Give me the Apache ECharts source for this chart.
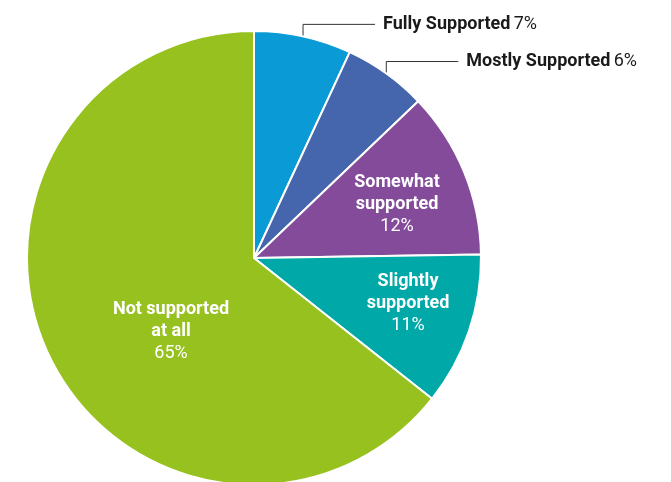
<!DOCTYPE html>
<html>
<head>
<meta charset="utf-8">
<style>
  html, body { margin: 0; padding: 0; background: #ffffff; }
  #chart { width: 671px; height: 482px; }
</style>
<script src="https://cdn.jsdelivr.net/npm/echarts@6/dist/echarts.min.js"></script>
</head>
<body>
<div id="chart"></div>
<script>
// Support levels, clockwise from 12 o'clock
const categories = ['Fully Supported', 'Mostly Supported', 'Somewhat\nsupported', 'Slightly\nsupported', 'Not supported\nat all'];
const values = [7, 6, 12, 11, 65];
const colors = ['#0a9bd7', '#4566ad', '#844b9b', '#00a8a8', '#97c11f'];
const outsideLabel = [true, true, false, false, false];

const CENTER = [254, 258];
const RADIUS = 227;
const FONT_SIZE = 18;

// anchor points for the labels drawn on the slices
const innerLabelPos = {
  2: [397, 204],
  3: [408, 303],
  4: [171, 331]
};

const chart = echarts.init(document.getElementById('chart'), null, { renderer: 'canvas' });

const data = categories.map((name, i) => ({
  name: name,
  value: values[i],
  itemStyle: { color: colors[i] },
  label: outsideLabel[i]
    ? {
        position: 'outside',
        formatter: p => '{b|' + p.name + '} {p|' + p.value + '%}',
        rich: {
          b: { fontFamily: 'Roboto', fontWeight: 'bold', fontSize: FONT_SIZE, color: '#1a1a1a' },
          p: { fontFamily: 'Roboto', fontWeight: 'normal', fontSize: FONT_SIZE, color: '#1a1a1a' }
        }
      }
    : {
        position: 'inside',
        formatter: p => p.name.split('\n').map(s => '{b|' + s + '}').join('\n') + '\n{p|' + p.value + '%}',
        rich: {
          b: { fontFamily: 'Roboto', fontWeight: 'bold', fontSize: FONT_SIZE, color: '#ffffff', lineHeight: 22, align: 'center' },
          p: { fontFamily: 'Roboto', fontWeight: 'normal', fontSize: FONT_SIZE, color: '#ffffff', lineHeight: 22, align: 'center' }
        }
      },
  labelLine: { show: outsideLabel[i] }
}));

chart.setOption({
  animation: false,
  series: [{
    type: 'pie',
    center: CENTER,
    radius: RADIUS,
    startAngle: 90,
    clockwise: true,
    avoidLabelOverlap: false,
    itemStyle: { borderColor: '#ffffff', borderWidth: 2 },
    labelLine: {
      lineStyle: { color: '#333333', width: 1 },
      length: 10,
      length2: 60
    },
    labelLayout: function (params) {
      const i = params.dataIndex;
      if (outsideLabel[i] && params.labelLinePoints) {
        // elbow leader: straight up from the rim, then across to the label
        const p0 = params.labelLinePoints[0];
        const rise = 12, run = 72, gap = 8;
        const y = p0[1] - rise;
        return {
          x: p0[0] + run + gap,
          y: y,
          align: 'left',
          verticalAlign: 'middle',
          labelLinePoints: [[p0[0], p0[1]], [p0[0], y], [p0[0] + run, y]]
        };
      }
      const pos = innerLabelPos[i];
      if (pos) {
        return { x: pos[0], y: pos[1], align: 'center', verticalAlign: 'middle' };
      }
      return {};
    },
    data: data
  }]
});
</script>
</body>
</html>
